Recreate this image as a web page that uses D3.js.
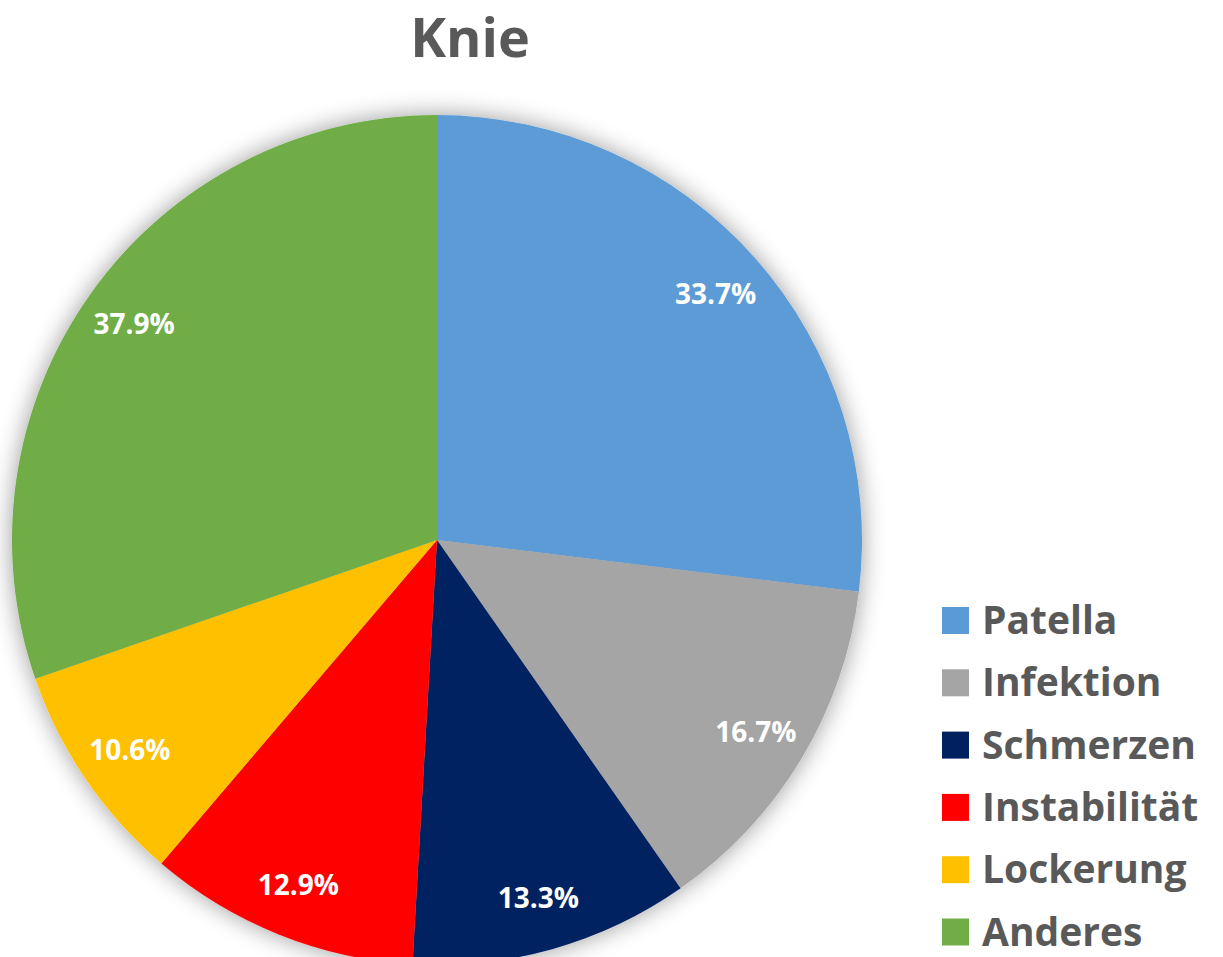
<!DOCTYPE html>
<html>
<head>
<meta charset="utf-8">
<script src="https://cdn.jsdelivr.net/npm/d3@7"></script>
<style>
  html, body { margin: 0; padding: 0; background: #fff; }
  svg { display: block; font-family: "Open Sans", "Noto Sans", sans-serif; }
</style>
</head>
<body>
<div id="chart"></div>
<script>
// Daten
const categories = ['Patella', 'Infektion', 'Schmerzen', 'Instabilität', 'Lockerung', 'Anderes'];
const values = [33.7, 16.7, 13.3, 12.9, 10.6, 37.9];
const colors = ['#5B9BD5', '#A5A5A5', '#002060', '#FF0000', '#FFC000', '#70AD47'];

const width = 1223, height = 957;
const cx = 437, cy = 540, radius = 425;

const svg = d3.select('#chart').append('svg')
    .attr('width', width)
    .attr('height', height);

// weicher Schatten um den Kreis
const defs = svg.append('defs');
const filter = defs.append('filter')
    .attr('id', 'glow')
    .attr('x', '-20%').attr('y', '-20%')
    .attr('width', '140%').attr('height', '140%');
filter.append('feGaussianBlur')
    .attr('in', 'SourceAlpha')
    .attr('stdDeviation', 12)
    .attr('result', 'blur');
filter.append('feComponentTransfer')
    .attr('in', 'blur')
    .attr('result', 'shadow')
    .append('feFuncA').attr('type', 'linear').attr('slope', 0.4);
const merge = filter.append('feMerge');
merge.append('feMergeNode').attr('in', 'shadow');
merge.append('feMergeNode').attr('in', 'SourceGraphic');

const pie = d3.pie().sort(null).value(d => d.value);
const arcs = pie(categories.map((c, i) => ({ name: c, value: values[i], color: colors[i] })));

const arc = d3.arc().innerRadius(0).outerRadius(radius);
const labelArc = d3.arc().innerRadius(372).outerRadius(372);

const g = svg.append('g').attr('transform', `translate(${cx},${cy})`);

g.append('g')
    .attr('filter', 'url(#glow)')
    .selectAll('path')
    .data(arcs)
    .enter()
    .append('path')
    .attr('d', arc)
    .attr('fill', d => d.data.color);

g.append('g')
    .selectAll('text')
    .data(arcs)
    .enter()
    .append('text')
    .attr('transform', d => `translate(${labelArc.centroid(d)})`)
    .attr('text-anchor', 'middle')
    .attr('dy', '0.36em')
    .attr('fill', '#fff')
    .attr('font-size', '28px')
    .attr('font-weight', 700)
    .text(d => d.data.value.toFixed(1) + '%');

// Titel
svg.append('text')
    .attr('x', 470)
    .attr('y', 57)
    .attr('text-anchor', 'middle')
    .attr('fill', '#595959')
    .attr('font-size', '54px')
    .attr('font-weight', 700)
    .text('Knie');

// Legende
const legend = svg.append('g').attr('transform', 'translate(942,607)');
const item = legend.selectAll('g')
    .data(categories)
    .enter()
    .append('g')
    .attr('transform', (d, i) => `translate(0,${i * 62.3})`);

item.append('rect')
    .attr('width', 27)
    .attr('height', 27)
    .attr('fill', (d, i) => colors[i]);

item.append('text')
    .attr('x', 40)
    .attr('y', 27)
    .attr('fill', '#595959')
    .attr('font-size', '39px')
    .attr('font-weight', 700)
    .text(d => d);
</script>
</body>
</html>
